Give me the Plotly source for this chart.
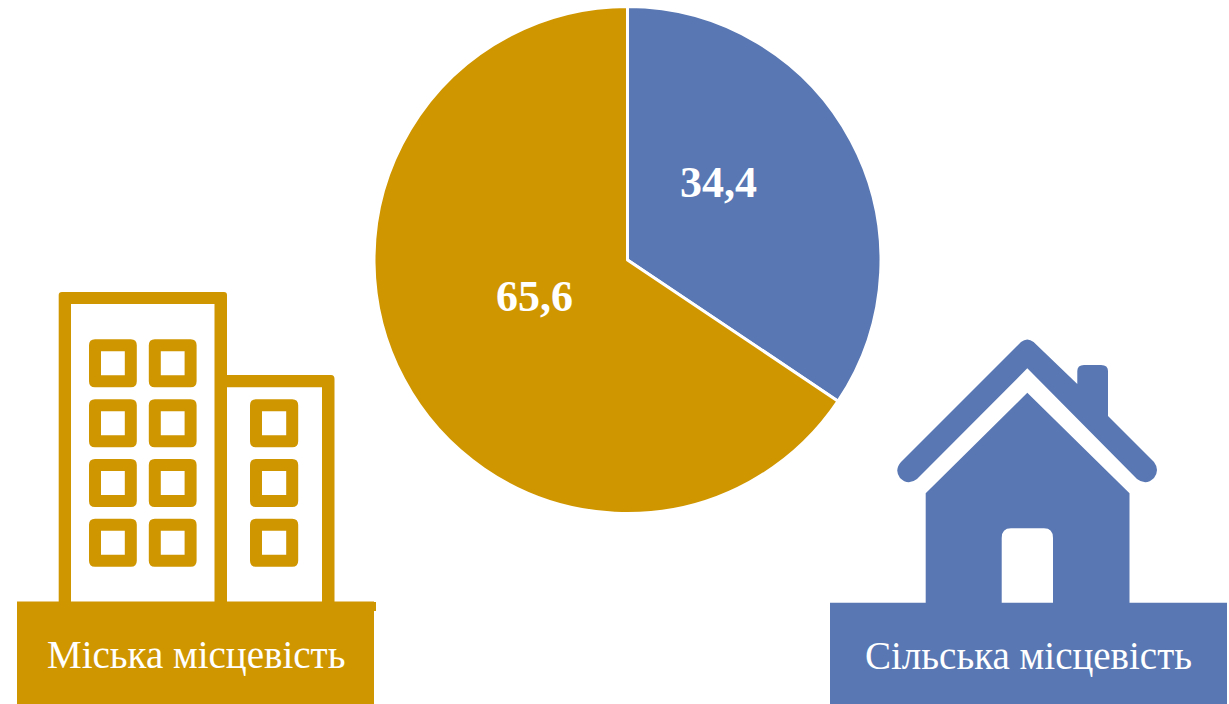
import plotly.graph_objects as go

categories = ["Сільська місцевість", "Міська місцевість"]
values = [34.4, 65.6]
colors = ["#5877B3", "#D09600"]
W, H = 1229, 704
FONT = "Liberation Serif"


def rr(x0, y0, x1, y1, r):
    return (f"M{x0+r},{y0} L{x1-r},{y0} Q{x1},{y0} {x1},{y0+r} L{x1},{y1-r} Q{x1},{y1} {x1-r},{y1} "
            f"L{x0+r},{y1} Q{x0},{y1} {x0},{y1-r} L{x0},{y0+r} Q{x0},{y0} {x0+r},{y0} Z")


def rect(x0, y0, x1, y1):
    return f"M{x0},{y0} L{x1},{y0} L{x1},{y1} L{x0},{y1} Z"


shapes = []


def add(path, color):
    shapes.append(dict(type="path", xref="x", yref="y", path=path, fillcolor=color,
                       line=dict(width=0), layer="above"))


gold, blue = colors[1], colors[0]

# Buildings
tall = (f"M62,292 L224,292 Q227,292 227,295 L227,603 L214.5,603 L214.5,304 L71,304 L71,603 "
        f"L58.7,603 L58.7,295 Q58.7,292 62,292 Z")
add(tall, gold)
short = (f"M226,375 L331,375 Q334.5,375 334.5,379 L334.5,603 L322,603 L322,387.3 L226,387.3 Z")
add(short, gold)
for col_x in (89, 148.8, 250):
    for row_y in (339.3, 399.2, 459, 518.8):
        if col_x == 250 and row_y == 339.3:
            continue
        w = 48.2 if col_x == 250 else 47.8
        add(rr(col_x, row_y, col_x + w, row_y + 48, 6)
            + " " + rect(col_x + 12, row_y + 12, col_x + w - 12, row_y + 36), gold)

# House
roof = ("M1021,342 Q1027.3,337 1033.6,342 L1077.3,384 L1077.3,371 Q1077.3,365 1084,365 L1101,365 "
        "Q1108,365 1108,371 L1108,416 L1154,462 Q1160,470 1154,478 Q1146,486 1137,479 "
        "L1027.3,368.3 L917,479 Q908,486 900,478 Q894,470 901,462 Z")
add(roof, blue)
body = ("M1027.3,392.7 L1129.5,493.3 L1129.5,603 L925.7,603 L925.7,493.3 Z "
        "M1011,528.3 L1044,528.3 Q1053,528.3 1053,538 L1053,603 L1001.7,603 L1001.7,538 Q1001.7,528.3 1011,528.3 Z")
add(body, blue)

# Label bands
add(rect(17, 601.5, 374, 704), gold)
add(rect(370, 602, 376, 611), gold)
add(rect(830, 602.7, 1227, 704), blue)

label_pos = [(718, 182), (534, 296)]
annotations = [
    dict(x=x, y=y, xref="x", yref="y", text=f"<b>{str(v).replace('.', ',')}</b>", showarrow=False,
         font=dict(family=FONT, size=44, color="white"))
    for v, (x, y) in zip(values, label_pos)
]
annotations += [
    dict(x=196, y=654, xref="x", yref="y", text=categories[1], showarrow=False,
         font=dict(family=FONT, size=39, color="white")),
    dict(x=1028.5, y=655, xref="x", yref="y", text=categories[0], showarrow=False,
         font=dict(family=FONT, size=39, color="white")),
]

fig = go.Figure()
fig.add_trace(go.Pie(
    labels=categories, values=values, sort=False, direction="clockwise", rotation=0,
    marker=dict(colors=colors, line=dict(color="white", width=3)),
    textinfo="none", showlegend=False, hoverinfo="label+value",
    domain=dict(x=[374 / W, 881 / W], y=[1 - 514 / H, 1 - 6 / H]),
))
fig.update_layout(
    width=W, height=H, margin=dict(l=0, r=0, t=0, b=0),
    paper_bgcolor="white", plot_bgcolor="rgba(0,0,0,0)", showlegend=False,
    xaxis=dict(range=[0, W], visible=False, domain=[0, 1], fixedrange=True),
    yaxis=dict(range=[H, 0], visible=False, domain=[0, 1], fixedrange=True),
    shapes=shapes, annotations=annotations,
)
fig.write_html("out.html", config=dict(displayModeBar=False),
               post_script="document.body.style.margin='0';document.body.style.overflow='hidden';")
